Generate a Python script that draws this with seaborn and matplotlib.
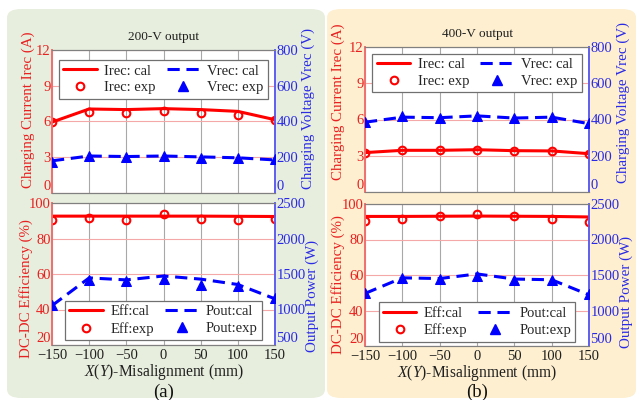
import numpy as np
import pandas as pd
import matplotlib
matplotlib.use("Agg")
import matplotlib.pyplot as plt
import seaborn as sns
from matplotlib.patches import FancyBboxPatch
from matplotlib.lines import Line2D

# ---------------- data ----------------
misalign = [-150, -100, -50, 0, 50, 100, 150]

# 200-V output
irec_cal_200 = [5.95, 7.05, 7.00, 7.08, 7.00, 6.85, 6.15]
irec_exp_200 = [5.95, 6.78, 6.75, 6.86, 6.68, 6.58, 6.15]
vrec_cal_200 = [180, 207, 204, 207, 202, 197, 185]
vrec_exp_200 = [176, 205, 202, 207, 197, 196, 188]
eff_cal_200 = [92.6, 92.6, 92.6, 92.6, 92.6, 92.5, 92.4]
eff_exp_200 = [90.2, 91.7, 90.2, 93.9, 91.1, 90.2, 91.1]
pout_cal_200 = [1055, 1445, 1417, 1472, 1428, 1352, 1150]
pout_exp_200 = [1065, 1422, 1403, 1430, 1352, 1325, 1167]

# 400-V output
irec_cal_400 = [3.26, 3.45, 3.45, 3.50, 3.42, 3.40, 3.17]
irec_exp_400 = [3.26, 3.45, 3.45, 3.50, 3.42, 3.40, 3.17]
vrec_cal_400 = [385, 413, 410, 420, 408, 413, 377]
vrec_exp_400 = [385, 420, 410, 421, 410, 416, 382]
eff_cal_400 = [93.0, 93.0, 93.1, 93.2, 93.1, 93.0, 92.7]
eff_exp_400 = [90.6, 91.7, 93.0, 94.1, 93.0, 91.5, 90.0]
pout_cal_400 = [1240, 1460, 1450, 1515, 1443, 1433, 1220]
pout_exp_400 = [1250, 1455, 1445, 1483, 1430, 1425, 1235]

titles = ["200-V output", "400-V output"]
panel_tags = ["(a)", "(b)"]
top_labels = ["Irec: cal", "Irec: exp", "Vrec: cal", "Vrec: exp"]
bot_labels = ["Eff:cal", "Eff:exp", "Pout:cal", "Pout:exp"]

# ---------------- style ----------------
sns.set_theme(style="white")
plt.rcParams["font.family"] = ["Liberation Serif", "DejaVu Serif"]
plt.rcParams["mathtext.fontset"] = "custom"
plt.rcParams["mathtext.rm"] = "Liberation Serif"
plt.rcParams["mathtext.it"] = "Liberation Serif:italic"

RED = "#ff0000"
BLUE = "#0000ff"
RED_T = "#e82020"
BLUE_T = "#2a2ae6"
LW = 2.2
DASH = (0, (4, 2.2))
TICK_FS = 10.5
LAB_FS = 10.8

fig = plt.figure(figsize=(6.39, 4.0), dpi=100)
W, H = 639, 400

def fx(px):
    return px / W

def fy(py):
    return 1 - py / H

# panel backgrounds
for (x0, x1, col) in [(7, 325, "#e7eedd"), (327, 636, "#fdefcf")]:
    patch = FancyBboxPatch((fx(x0), fy(398)), fx(x1 - x0), (398 - 9) / H,
                           boxstyle="round,pad=0,rounding_size=0.022",
                           transform=fig.transFigure, facecolor=col,
                           edgecolor="none", zorder=0)
    fig.add_artist(patch)


def style_axes(ax, ax2, ylim, yticks, y2lim, y2ticks, show_x):
    ax.set_facecolor("white")
    ax.set_xlim(-150, 150)
    ax.set_xticks(misalign)
    ax.set_ylim(*ylim)
    ax.set_yticks(yticks)
    ax2.set_ylim(*y2lim)
    ax2.set_yticks(y2ticks)
    ax.grid(axis="x", color="#a8a8a8", lw=0.8)
    ax.grid(axis="y", color="#f4a8a8", lw=0.8)
    ax.set_axisbelow(True)
    ax.tick_params(axis="y", colors=RED_T, labelsize=TICK_FS, length=0, pad=1)
    ax2.tick_params(axis="y", colors=BLUE_T, labelsize=TICK_FS, length=0, pad=1)
    ax.tick_params(axis="x", colors="#202020", labelsize=TICK_FS, length=0, pad=3,
                   labelbottom=show_x)
    for s in ["top", "bottom"]:
        ax.spines[s].set_color("#808080")
        ax2.spines[s].set_color("#808080")
        ax.spines[s].set_linewidth(0.8)
        ax2.spines[s].set_linewidth(0.8)
    ax.spines["left"].set_color("#f07070")
    ax2.spines["left"].set_color("#f07070")
    ax2.spines["right"].set_color("#6060f0")
    ax.spines["right"].set_color("#6060f0")
    for sp in ax.spines.values():
        sp.set_visible(True)
    for sp in ax2.spines.values():
        sp.set_visible(True)
    ax.set_xlabel("")
    ax2.set_xlabel("")
    # lowest y tick label nudged upward, as in the reference
    ax.get_yticklabels()[0].set_va("bottom")
    ax2.get_yticklabels()[0].set_va("bottom")


def draw_pair(ax, ax2, y1c, y1e, y2c, y2e):
    sns.lineplot(x=misalign, y=y1c, ax=ax, color=RED, lw=LW, legend=False, zorder=3)
    sns.lineplot(x=misalign, y=y1e, ax=ax, color=RED, linestyle="none", marker="o",
                 markerfacecolor="none", markeredgecolor=RED, markeredgewidth=1.5,
                 markersize=5.5, legend=False, zorder=4)
    sns.lineplot(x=misalign, y=y2c, ax=ax2, color=BLUE, lw=LW, linestyle=DASH,
                 legend=False, zorder=3)
    sns.lineplot(x=misalign, y=y2e, ax=ax2, color=BLUE, linestyle="none", marker="^",
                 markerfacecolor=BLUE, markeredgecolor=BLUE, markersize=6.5,
                 legend=False, zorder=4)


def legend_handles():
    return [
        Line2D([], [], color=RED, lw=LW),
        Line2D([], [], linestyle="none", marker="o", markerfacecolor="none",
               markeredgecolor=RED, markeredgewidth=1.5, markersize=5.5),
        Line2D([], [], color=BLUE, lw=LW, linestyle=DASH),
        Line2D([], [], linestyle="none", marker="^", color=BLUE, markersize=6.5),
    ]


def add_legend(ax2, labels, loc, anchor):
    leg = ax2.legend(legend_handles(), labels, ncol=2, loc=loc,
                     bbox_to_anchor=anchor, frameon=True, fancybox=False,
                     fontsize=10.5, handlelength=2.3, columnspacing=0.75,
                     borderpad=0.3, labelspacing=0.25, handletextpad=0.5,
                     borderaxespad=0)
    leg.get_frame().set_edgecolor("#707070")
    leg.get_frame().set_linewidth(0.9)
    leg.get_frame().set_facecolor("white")
    leg.get_frame().set_alpha(1)
    leg.set_zorder(10)


panels = [
    dict(x0=52, x1=275, ty=(50, 193), by=(203, 345), ta=0.93, ba=0.035,
         tl=(-0.076, 0.58), tr=(1.121, 0.594), bl=(-0.085, 0.40), br=(1.135, 0.345),
         irc=irec_cal_200, ire=irec_exp_200, vc=vrec_cal_200, ve=vrec_exp_200,
         ec=eff_cal_200, ee=eff_exp_200, pc=pout_cal_200, pe=pout_exp_200),
    dict(x0=365, x1=589, ty=(47, 192), by=(204, 346), ta=0.955, ba=0.03,
         tl=(-0.089, 0.62), tr=(1.125, 0.62), bl=(-0.089, 0.43), br=(1.138, 0.38),
         irc=irec_cal_400, ire=irec_exp_400, vc=vrec_cal_400, ve=vrec_exp_400,
         ec=eff_cal_400, ee=eff_exp_400, pc=pout_cal_400, pe=pout_exp_400),
]

for i, p in enumerate(panels):
    left = fx(p["x0"])
    width = fx(p["x1"] - p["x0"])
    # top axes
    axt = fig.add_axes([left, fy(p["ty"][1]), width, (p["ty"][1] - p["ty"][0]) / H])
    axt2 = axt.twinx()
    draw_pair(axt, axt2, p["irc"], p["ire"], p["vc"], p["ve"])
    style_axes(axt, axt2, (0, 12), [0, 3, 6, 9, 12], (0, 800),
               [0, 200, 400, 600, 800], show_x=False)
    axt.set_ylabel("Charging Current Irec (A)", color=RED_T, fontsize=LAB_FS)
    axt2.set_ylabel("Charging Voltage Vrec (V)", color=BLUE_T, fontsize=LAB_FS)
    axt.yaxis.set_label_coords(*p["tl"])
    axt2.yaxis.set_label_coords(*p["tr"])
    axt.set_title(titles[i], fontsize=9.5, color="#202020", pad=7)
    add_legend(axt2, top_labels, "upper center", (0.5, p["ta"]))

    # bottom axes
    axb = fig.add_axes([left, fy(p["by"][1]), width, (p["by"][1] - p["by"][0]) / H])
    axb2 = axb.twinx()
    draw_pair(axb, axb2, p["ec"], p["ee"], p["pc"], p["pe"])
    style_axes(axb, axb2, (20, 100), [20, 40, 60, 80, 100], (500, 2500),
               [500, 1000, 1500, 2000, 2500], show_x=True)
    axb.set_ylabel("DC-DC Efficiency (%)", color=RED_T, fontsize=LAB_FS)
    axb2.set_ylabel("Output Power (W)", color=BLUE_T, fontsize=LAB_FS)
    axb.yaxis.set_label_coords(*p["bl"])
    axb2.yaxis.set_label_coords(*p["br"])
    axb.set_xlabel(r"$X$($Y$)-Misalignment (mm)", fontsize=11.2, color="#202020",
                   labelpad=0)
    add_legend(axb2, bot_labels, "lower center", (0.5, p["ba"]))
    cx = fx((p["x0"] + p["x1"]) / 2)
    fig.text(cx, fy(392), panel_tags[i], ha="center", va="center", fontsize=13.5,
             color="#101010")

fig.savefig("out.png", dpi=100, facecolor="white")
